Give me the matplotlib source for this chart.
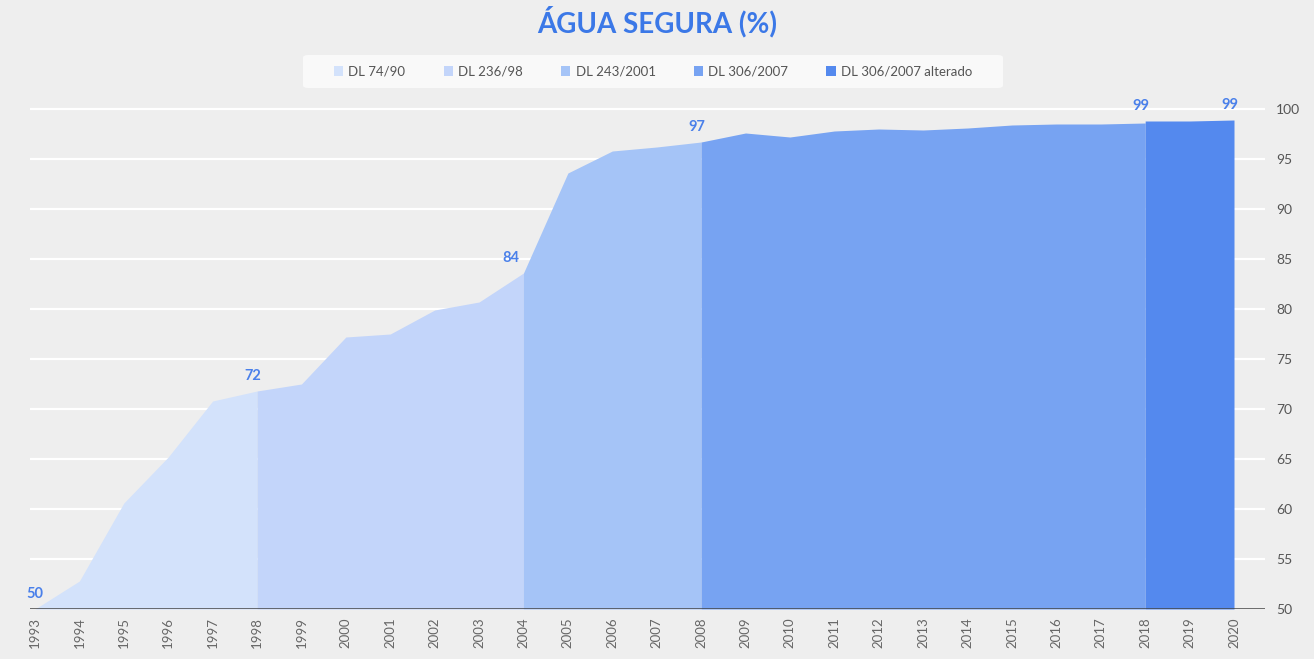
import matplotlib
matplotlib.use("Agg")
from matplotlib import pyplot as plt
from matplotlib.patches import Patch, FancyBboxPatch

# data
series_names = ["DL 74/90", "DL 236/98", "DL 243/2001", "DL 306/2007", "DL 306/2007 alterado"]
series_years = [
    [1993, 1994, 1995, 1996, 1997, 1998],
    [1998, 1999, 2000, 2001, 2002, 2003, 2004],
    [2004, 2005, 2006, 2007, 2008],
    [2008, 2009, 2010, 2011, 2012, 2013, 2014, 2015, 2016, 2017, 2018],
    [2018, 2019, 2020],
]
series_values = [
    [50.0, 52.8, 60.6, 65.2, 70.8, 71.8],
    [71.8, 72.5, 77.2, 77.5, 79.9, 80.7, 83.6],
    [83.6, 93.6, 95.8, 96.2, 96.7],
    [96.7, 97.6, 97.2, 97.8, 98.0, 97.9, 98.1, 98.4, 98.5, 98.5, 98.6],
    [98.8, 98.8, 98.9],
]
colors = ["#d3e2fb", "#c3d5fa", "#a5c4f7", "#77a3f2", "#5489ee"]
# (year, value, label) for the data labels shown
point_labels = [(1993, 50.0, "50"), (1998, 71.8, "72"), (2004, 83.6, "84"),
                (2008, 96.7, "97"), (2018, 98.8, "99"), (2020, 98.9, "99")]
label_dx = [0, -3, -9, -3, -3, -3]
years = list(range(1993, 2021))
yticks = list(range(50, 101, 5))

W, H = 1314, 659
bg = "#eeeeee"
fig = plt.figure(figsize=(W / 100, H / 100), dpi=100, facecolor=bg)
ax = fig.add_axes([30 / W, (H - 609) / H, (1265 - 30) / W, (609 - 99) / H])
ax.set_facecolor(bg)

for yrs, vals, c, name in zip(series_years, series_values, colors, series_names):
    ax.fill_between(yrs, 50, vals, color=c, linewidth=0, zorder=2)

step = (1234 - 35) / 27
ax.set_xlim(1993 - 5 / step, 2020 + 31 / step)
ax.set_ylim(50, 100 + 10 / 10)

for y in yticks[1:]:
    ax.axhline(y, color="white", lw=1.6, zorder=1)
ax.axhline(50, color="#444444", lw=1.8, zorder=3)

for s in ax.spines.values():
    s.set_visible(False)

ax.yaxis.tick_right()
ax.set_yticks(yticks)
ax.set_yticklabels([str(y) for y in yticks], fontsize=10, color="#555555", family="Lato")
ax.tick_params(axis="y", length=0, pad=8)
ax.set_xticks(years)
ax.set_xticklabels([str(y) for y in years], rotation=90, fontsize=9.5,
                   color="#666666", family="Lato")
ax.tick_params(axis="x", length=0, pad=6)

for (yr, v, t), dx in zip(point_labels, label_dx):
    ax.annotate(t, (yr, v), xytext=(dx, 6), textcoords="offset points",
                ha="center", va="bottom", fontsize=10.5, fontweight="bold",
                color="#4a80ea", family="Lato", zorder=5)

fig.text(0.5, 1 - 22 / H, "ÁGUA SEGURA (%)", ha="center", va="center",
         fontsize=20, fontweight="bold", color="#3b78e7", family="Lato")

# legend box drawn by hand so it can be wider than the entries
box = FancyBboxPatch((303 / W, 1 - 88 / H), 700 / W, 33 / H,
                     boxstyle="round,pad=0,rounding_size=0.004",
                     transform=fig.transFigure, facecolor="#f9f9f9",
                     edgecolor="none", zorder=0)
fig.patches.append(box)

handles = [Patch(facecolor=c, edgecolor="none") for c in colors]
leg = fig.legend(handles, series_names, loc="center", bbox_to_anchor=(653 / W, 1 - 71.5 / H),
                 ncol=5, frameon=False, handlelength=0.7, handleheight=0.7,
                 handletextpad=0.4, columnspacing=2.9,
                 prop={"family": "Lato", "size": 9.5})
for t in leg.get_texts():
    t.set_color("#555555")

fig.savefig("out.png", dpi=100, facecolor=bg)
